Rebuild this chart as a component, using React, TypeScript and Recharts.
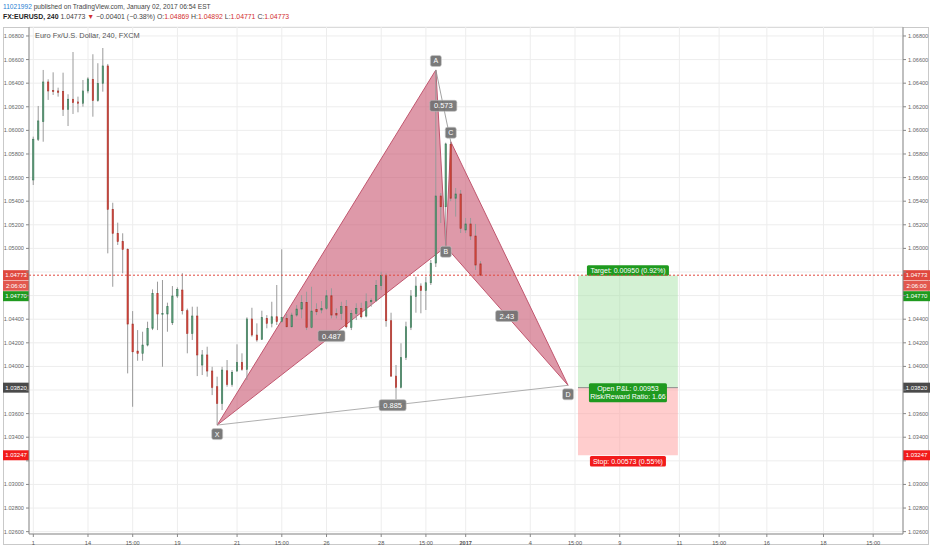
import React from 'react';
import {
  ComposedChart,
  Bar,
  Area,
  Scatter,
  XAxis,
  YAxis,
  CartesianGrid,
  ReferenceLine,
  ReferenceArea,
} from 'recharts';

const FONT = '"Liberation Sans", Arial, sans-serif';

// EUR/USD 4h bars (bar index = position on the time axis)
const opens = [
  1.0558, 1.05925, 1.06074, 1.0641, 1.06337, 1.06334, 1.06328, 1.06179, 1.06264, 1.06241,
  1.0623, 1.06334, 1.06433, 1.06252, 1.06399, 1.06546, 1.05331, 1.05128, 1.05057, 1.04992,
  1.04359, 1.0413, 1.04111, 1.04181, 1.04323, 1.04619, 1.04444, 1.04444, 1.0437, 1.04597,
  1.04647, 1.04472, 1.0428, 1.04427, 1.04012, 1.04097, 1.03961, 1.03828, 1.03687, 1.03963,
  1.03848, 1.03961, 1.04035, 1.03975, 1.04402, 1.04266, 1.0423, 1.04407, 1.04365, 1.04421,
  1.04379, 1.04407, 1.04336, 1.04435, 1.04486, 1.04543, 1.04331, 1.04483, 1.04478, 1.04492,
  1.04599, 1.0445, 1.0445, 1.04506, 1.04331, 1.0445, 1.04492, 1.04427, 1.04548, 1.04557,
  1.04684, 1.04769, 1.04387, 1.03918, 1.03823, 1.04074, 1.04331, 1.04591, 1.04681, 1.04642,
  1.04709, 1.04876, 1.05444, 1.05353, 1.05882, 1.05425, 1.05461, 1.05156, 1.05207, 1.05105,
  1.04869,
];
const highs = [
  1.05947, 1.06207, 1.06512, 1.06433, 1.06492, 1.06362, 1.06489, 1.06306, 1.06664, 1.06286,
  1.06427, 1.0645, 1.06645, 1.06569, 1.06698, 1.06563, 1.05387, 1.05218, 1.05128, 1.05,
  1.04469, 1.04308, 1.04294, 1.04379, 1.04653, 1.04718, 1.04732, 1.0454, 1.04681, 1.0467,
  1.04789, 1.0449, 1.04506, 1.04506, 1.04139, 1.04167, 1.03997, 1.03913, 1.03997, 1.04054,
  1.03969, 1.04187, 1.04111, 1.04416, 1.04497, 1.04365, 1.04472, 1.04435, 1.04548, 1.0469,
  1.04992, 1.04444, 1.04455, 1.0452, 1.04605, 1.04633, 1.04675, 1.04535, 1.04554, 1.04647,
  1.04662, 1.04492, 1.04548, 1.04563, 1.04478, 1.04535, 1.0454, 1.04619, 1.04577, 1.04732,
  1.04802, 1.04789, 1.04455, 1.04012, 1.04196, 1.04379, 1.04647, 1.0476, 1.04704, 1.0476,
  1.04902, 1.06512, 1.05469, 1.05896, 1.05904, 1.05512, 1.05495, 1.05258, 1.05258, 1.05207,
  1.04892,
];
const lows = [
  1.05537, 1.0591, 1.05904, 1.06258, 1.063, 1.06286, 1.06122, 1.06037, 1.06139, 1.06153,
  1.06201, 1.06314, 1.06116, 1.06243, 1.06328, 1.04958, 1.04675, 1.05029, 1.04789, 1.03941,
  1.03658, 1.04048, 1.04048, 1.0417, 1.04308, 1.04308, 1.03997, 1.04294, 1.04351, 1.0458,
  1.0444, 1.04111, 1.04224, 1.03918, 1.03927, 1.03913, 1.03757, 1.03503, 1.0363, 1.03828,
  1.03828, 1.03955, 1.03963, 1.03885, 1.04252, 1.04209, 1.04224, 1.04323, 1.04331, 1.04351,
  1.0437, 1.04331, 1.04331, 1.04421, 1.04407, 1.04308, 1.04323, 1.04435, 1.0445, 1.04478,
  1.04407, 1.04407, 1.04393, 1.04323, 1.04308, 1.04393, 1.04407, 1.04416, 1.04506, 1.04548,
  1.04647, 1.04336, 1.03913, 1.03721, 1.03814, 1.04054, 1.04308, 1.04455, 1.0445, 1.04478,
  1.0469, 1.04842, 1.05215, 1.05014, 1.054, 1.05269, 1.0513, 1.0513, 1.05071, 1.04817,
  1.04771,
];
const closes = [
  1.05925, 1.0608, 1.0641, 1.06334, 1.06328, 1.06323, 1.06179, 1.06264, 1.06235, 1.0623,
  1.06334, 1.06436, 1.06252, 1.06399, 1.06546, 1.05331, 1.05128, 1.05057, 1.04992, 1.04359,
  1.04124, 1.04111, 1.04181, 1.04323, 1.04619, 1.04444, 1.0445, 1.04506, 1.04597, 1.04653,
  1.04472, 1.0428, 1.04427, 1.04097, 1.04097, 1.03961, 1.03823, 1.03687, 1.03969, 1.03848,
  1.0395, 1.04035, 1.03975, 1.04402, 1.04266, 1.04224, 1.04413, 1.04365, 1.04421, 1.04379,
  1.04413, 1.04336, 1.04435, 1.04486, 1.04543, 1.04331, 1.04469, 1.04463, 1.04492, 1.04599,
  1.04435, 1.04435, 1.04506, 1.04336, 1.0445, 1.04492, 1.04421, 1.04548, 1.04557, 1.04684,
  1.04769, 1.04387, 1.03918, 1.03823, 1.04074, 1.04336, 1.04597, 1.04681, 1.04642, 1.04709,
  1.04874, 1.05444, 1.05353, 1.05885, 1.05425, 1.05461, 1.0517, 1.05207, 1.05105, 1.04859,
  1.04773,
];

// harmonic pattern points (bar index, price)
const patternNames = ['X', 'A', 'B', 'C', 'D'];
const patternIdx = [37, 81, 83, 84, 107.6];
const patternPrice = [1.03503, 1.06512, 1.05014, 1.05904, 1.0384];

// ratio labels and the legs they sit on
const ratioText = ['0.487', '0.573', '0.885', '2.43'];
const ratioLegs = [['X', 'B'], ['A', 'C'], ['X', 'D'], ['B', 'D']];

// long position tool
const posStart = 109.6;
const posEnd = 129.7;
const entryPrice = 1.0382;
const targetPrice = 1.0477;
const stopPrice = 1.03247;
const lastPrice = 1.04773;

const yTicks = [
  1.026, 1.028, 1.03, 1.032, 1.034, 1.036, 1.038, 1.04, 1.042, 1.044, 1.046,
  1.048, 1.05, 1.052, 1.054, 1.056, 1.058, 1.06, 1.062, 1.064, 1.066, 1.068,
];
// tick labels hidden behind the price tags on both scales
const yTicksCovered = [1.032, 1.038, 1.046, 1.048];
const xTickPos = [0, 11, 20, 29, 41, 50, 59, 70, 79, 87, 100, 109, 118, 130, 138, 147.6, 159, 169];
const xTickText = [
  '1', '14', '15:00', '19', '21', '15:00', '26', '28', '15:00', '2017',
  '4', '15:00', '9', '11', '15:00', '16', '18', '15:00',
];

const candles = opens.map((o, i) => ({
  i,
  open: o,
  high: highs[i],
  low: lows[i],
  close: closes[i],
}));

const pt = (name: string) => {
  const k = patternNames.indexOf(name);
  return { i: patternIdx[k], p: patternPrice[k] };
};
const priceOnLeg = (a: string, b: string, i: number) => {
  const pa = pt(a);
  const pb = pt(b);
  return pa.p + ((pb.p - pa.p) * (i - pa.i)) / (pb.i - pa.i);
};

const X = pt('X');
const A = pt('A');
const B = pt('B');
const C = pt('C');
const D = pt('D');

const xabArea = [
  { i: X.i, r: [X.p, X.p] },
  { i: A.i, r: [priceOnLeg('X', 'B', A.i), A.p] },
  { i: B.i, r: [B.p, B.p] },
];
const bcdArea = [
  { i: B.i, r: [B.p, B.p] },
  { i: C.i, r: [priceOnLeg('B', 'D', C.i), C.p] },
  { i: D.i, r: [D.p, D.p] },
];

const pointLabels = patternNames.map((n, k) => ({ i: patternIdx[k], p: patternPrice[k], name: n }));
const ratioLabels = ratioText.map((t, k) => {
  const a = pt(ratioLegs[k][0]);
  const b = pt(ratioLegs[k][1]);
  return { i: (a.i + b.i) / 2, p: (a.p + b.p) / 2, name: t };
});

const GREEN = '#5f9f7c';
const GREEN_EDGE = '#3f7a5a';
const RED = '#d8473d';
const RED_EDGE = '#a8352d';

function Candle(props: any) {
  const { x, y, width, height, payload } = props;
  if (x == null || y == null) return null;
  const top = Math.min(y, y + height);
  const h = Math.abs(height);
  const span = payload.high - payload.low || 1e-9;
  const py = (v: number) => top + ((payload.high - v) / span) * h;
  const up = payload.close >= payload.open;
  const cx = x + width / 2;
  const bTop = py(Math.max(payload.open, payload.close));
  const bBot = py(Math.min(payload.open, payload.close));
  return (
    <g>
      <line x1={cx} x2={cx} y1={top} y2={top + h} stroke="#9a9a9a" strokeWidth={1} />
      <rect
        x={x}
        y={bTop}
        width={width}
        height={Math.max(1, bBot - bTop)}
        fill={up ? GREEN : RED}
        stroke={up ? GREEN_EDGE : RED_EDGE}
        strokeWidth={0.6}
      />
    </g>
  );
}

const labelOffset: Record<string, number> = { X: 9, A: -9, B: 5, C: -9, D: 9 };

function PointLabel(props: any) {
  const { cx, cy, payload } = props;
  const dy = labelOffset[payload.name] ?? 0;
  return (
    <g>
      <rect x={cx - 5.5} y={cy + dy - 5.5} width={11} height={11} rx={2} fill="#7a7a7a" stroke="#c8c8c8" strokeWidth={0.6} />
      <text x={cx} y={cy + dy + 2.5} textAnchor="middle" fontSize={7} fill="#fff" fontFamily={FONT}>
        {payload.name}
      </text>
    </g>
  );
}

function RatioLabel(props: any) {
  const { cx, cy, payload } = props;
  const w = payload.name.length * 4.4 + 5;
  return (
    <g>
      <rect x={cx - w / 2} y={cy - 5.5} width={w} height={11} rx={2} fill="#6f6f6f" fillOpacity={0.9} stroke="#bbb" strokeWidth={0.6} />
      <text x={cx} y={cy + 2.6} textAnchor="middle" fontSize={7.5} fill="#fff" fontFamily={FONT}>
        {payload.name}
      </text>
    </g>
  );
}

function tagBoxes(vb: any, y: number, text: string, bg: string, key: string) {
  const right = vb.x + vb.width;
  const left = vb.x;
  return (
    <g key={key}>
      <rect x={left - 26} y={y - 5} width={26} height={10} fill={bg} />
      <text x={left - 13} y={y + 2.2} textAnchor="middle" fontSize={6} fill="#fff" fontFamily={FONT}>
        {text}
      </text>
      <rect x={right} y={y - 5} width={27} height={10} fill={bg} />
      <text x={right + 13.5} y={y + 2.2} textAnchor="middle" fontSize={6} fill="#fff" fontFamily={FONT}>
        {text}
      </text>
    </g>
  );
}

const lastTags = (props: any) => {
  const vb = props.viewBox;
  return (
    <g>
      {tagBoxes(vb, vb.y, lastPrice.toFixed(5), '#e0483e', 'a')}
      {tagBoxes(vb, vb.y + 10.5, '2:06:00', '#e2584e', 'b')}
      {tagBoxes(vb, vb.y + 21, targetPrice.toFixed(5), '#1f9a1f', 'c')}
    </g>
  );
};
const entryTag = (props: any) => tagBoxes(props.viewBox, props.viewBox.y, entryPrice.toFixed(5), '#4a4a4a', 'e');
const stopTag = (props: any) => tagBoxes(props.viewBox, props.viewBox.y, stopPrice.toFixed(5), '#f21b1b', 's');

function boxLabel(cx: number, cy: number, lines: string[], bg: string, w: number) {
  const h = lines.length * 8.5 + 2;
  return (
    <g>
      <rect x={cx - w / 2} y={cy - h / 2} width={w} height={h} rx={1.5} fill={bg} />
      {lines.map((t, k) => (
        <text
          key={k}
          x={cx}
          y={cy - h / 2 + 7.6 + k * 8.5}
          textAnchor="middle"
          fontSize={7}
          fill="#fff"
          fontFamily={FONT}
        >
          {t}
        </text>
      ))}
    </g>
  );
}

const targetLabel = (props: any) => {
  const { x, y, width } = props.viewBox;
  return boxLabel(x + width / 2, y - 5, [`Target: ${(targetPrice - entryPrice).toFixed(5)} (0.92%)`], '#1f9a1f', 82);
};
const pnlLabel = (props: any) => {
  const { x, y, width } = props.viewBox;
  return boxLabel(x + width / 2, y + 5, ['Open P&L: 0.00953', 'Risk/Reward Ratio: 1.66'], '#1f9a1f', 78);
};
const stopLabel = (props: any) => {
  const { x, y, width, height } = props.viewBox;
  return boxLabel(x + width / 2, y + height + 6, [`Stop: ${(entryPrice - stopPrice).toFixed(5)} (0.55%)`], '#f21b1b', 76);
};

function XTick(props: any) {
  const { x, y, payload } = props;
  const k = xTickPos.indexOf(payload.value);
  const t = xTickText[k] ?? '';
  return (
    <text
      x={x}
      y={y + 6}
      textAnchor="middle"
      fontSize={5.6}
      fill="#555"
      fontWeight={t === '2017' ? 700 : 400}
      fontFamily={FONT}
    >
      {t}
    </text>
  );
}

function YTick(props: any) {
  const { x, y, payload, textAnchor } = props;
  if (yTicksCovered.some((v) => Math.abs(v - payload.value) < 1e-7)) return <g />;
  return (
    <text x={x} y={y + 2} textAnchor={textAnchor} fontSize={5.6} fill="#666" fontFamily={FONT}>
      {payload.value.toFixed(5)}
    </text>
  );
}

export default function App() {
  return (
    <div
      style={{
        position: 'absolute',
        left: 0,
        top: 0,
        width: 932,
        height: 550,
        background: '#fff',
        fontFamily: FONT,
        overflow: 'hidden',
      }}
    >
      {/* header */}
      <div style={{ position: 'absolute', left: 3, top: 2.5, fontSize: 6.6, color: '#444', whiteSpace: 'nowrap' }}>
        <span style={{ color: '#2a7fd4' }}>11021992</span> published on TradingView.com, January 02, 2017 06:54 EST
      </div>
      <div style={{ position: 'absolute', left: 3, top: 13, fontSize: 6.9, color: '#444', whiteSpace: 'nowrap' }}>
        <b style={{ color: '#222' }}>FX:EURUSD, 240</b> 1.04773 <span style={{ color: '#d32f2f' }}>▼</span> −0.00401
        (−0.38%) O:<span style={{ color: '#d32f2f' }}>1.04869</span> H:<span style={{ color: '#d32f2f' }}>1.04892</span>{' '}
        L:<span style={{ color: '#d32f2f' }}>1.04771</span> C:<span style={{ color: '#d32f2f' }}>1.04773</span>
      </div>
      <div
        style={{
          position: 'absolute',
          left: 3,
          top: 27,
          width: 926,
          height: 518,
          border: '1px solid #c9c9c9',
          boxSizing: 'border-box',
        }}
      />

      <div style={{ position: 'absolute', left: 0, top: 0 }}>
        <ComposedChart
          width={932}
          height={550}
          data={candles}
          margin={{ top: 27, right: 0, bottom: 0, left: 0 }}
        >
          <CartesianGrid yAxisId="L" stroke="#ededed" strokeWidth={1} />
          <XAxis
            dataKey="i"
            type="number"
            domain={[-0.87, 175]}
            allowDataOverflow
            ticks={xTickPos}
            interval={0}
            height={16}
            tickSize={3}
            stroke="#888"
            tick={<XTick />}
          />
          <YAxis
            yAxisId="L"
            orientation="left"
            type="number"
            domain={[1.0258, 1.06876]}
            allowDataOverflow
            ticks={yTicks}
            interval={0}
            width={29}
            tickSize={3}
            stroke="#888"
            tick={<YTick />}
          />
          <YAxis
            yAxisId="R"
            orientation="right"
            type="number"
            domain={[1.0258, 1.06876]}
            allowDataOverflow
            ticks={yTicks}
            interval={0}
            width={29}
            tickSize={3}
            stroke="#888"
            tick={<YTick />}
          />

          <ReferenceArea
            yAxisId="L"
            x1={posStart}
            x2={posEnd}
            y1={stopPrice}
            y2={entryPrice}
            fill="#ff9c9c"
            fillOpacity={0.5}
            stroke="none"
            label={stopLabel}
          />
          <ReferenceArea
            yAxisId="L"
            x1={posStart}
            x2={posEnd}
            y1={entryPrice}
            y2={targetPrice}
            fill="#9fe09f"
            fillOpacity={0.45}
            stroke="none"
            label={targetLabel}
          />
          <ReferenceLine
            yAxisId="L"
            segment={[
              { x: posStart, y: entryPrice },
              { x: posEnd, y: entryPrice },
            ]}
            stroke="#8a8a8a"
            strokeWidth={1}
            label={pnlLabel}
          />

          <Bar
            yAxisId="L"
            dataKey={(d: any) => [d.low, d.high]}
            barSize={3}
            shape={<Candle />}
            isAnimationActive={false}
          />

          <Area
            yAxisId="L"
            data={xabArea}
            dataKey="r"
            type="linear"
            fill="#c64f6b"
            fillOpacity={0.58}
            stroke="#c0566e"
            strokeWidth={1}
            isAnimationActive={false}
            dot={false}
            activeDot={false}
          />
          <Area
            yAxisId="L"
            data={bcdArea}
            dataKey="r"
            type="linear"
            fill="#c64f6b"
            fillOpacity={0.58}
            stroke="#c0566e"
            strokeWidth={1}
            isAnimationActive={false}
            dot={false}
            activeDot={false}
          />
          <ReferenceLine
            yAxisId="L"
            segment={[
              { x: X.i, y: X.p },
              { x: D.i, y: D.p },
            ]}
            stroke="#9a9a9a"
            strokeWidth={0.8}
          />
          <ReferenceLine
            yAxisId="L"
            segment={[
              { x: A.i, y: A.p },
              { x: C.i, y: C.p },
            ]}
            stroke="#8a8a8a"
            strokeWidth={0.8}
          />

          <ReferenceLine
            yAxisId="L"
            y={lastPrice}
            stroke="#e0483e"
            strokeDasharray="2 2"
            strokeWidth={1}
            label={lastTags}
          />
          <ReferenceLine yAxisId="L" y={entryPrice} stroke="transparent" label={entryTag} />
          <ReferenceLine yAxisId="L" y={stopPrice} stroke="transparent" label={stopTag} />

          <Scatter
            yAxisId="L"
            data={ratioLabels}
            dataKey="p"
            shape={<RatioLabel />}
            isAnimationActive={false}
          />
          <Scatter
            yAxisId="L"
            data={pointLabels}
            dataKey="p"
            shape={<PointLabel />}
            isAnimationActive={false}
          />
        </ComposedChart>
      </div>

      <div
        style={{
          position: 'absolute',
          left: 35,
          top: 31,
          fontSize: 7.4,
          color: '#555',
          whiteSpace: 'nowrap',
        }}
      >
        Euro Fx/U.S. Dollar, 240, FXCM
      </div>
    </div>
  );
}
